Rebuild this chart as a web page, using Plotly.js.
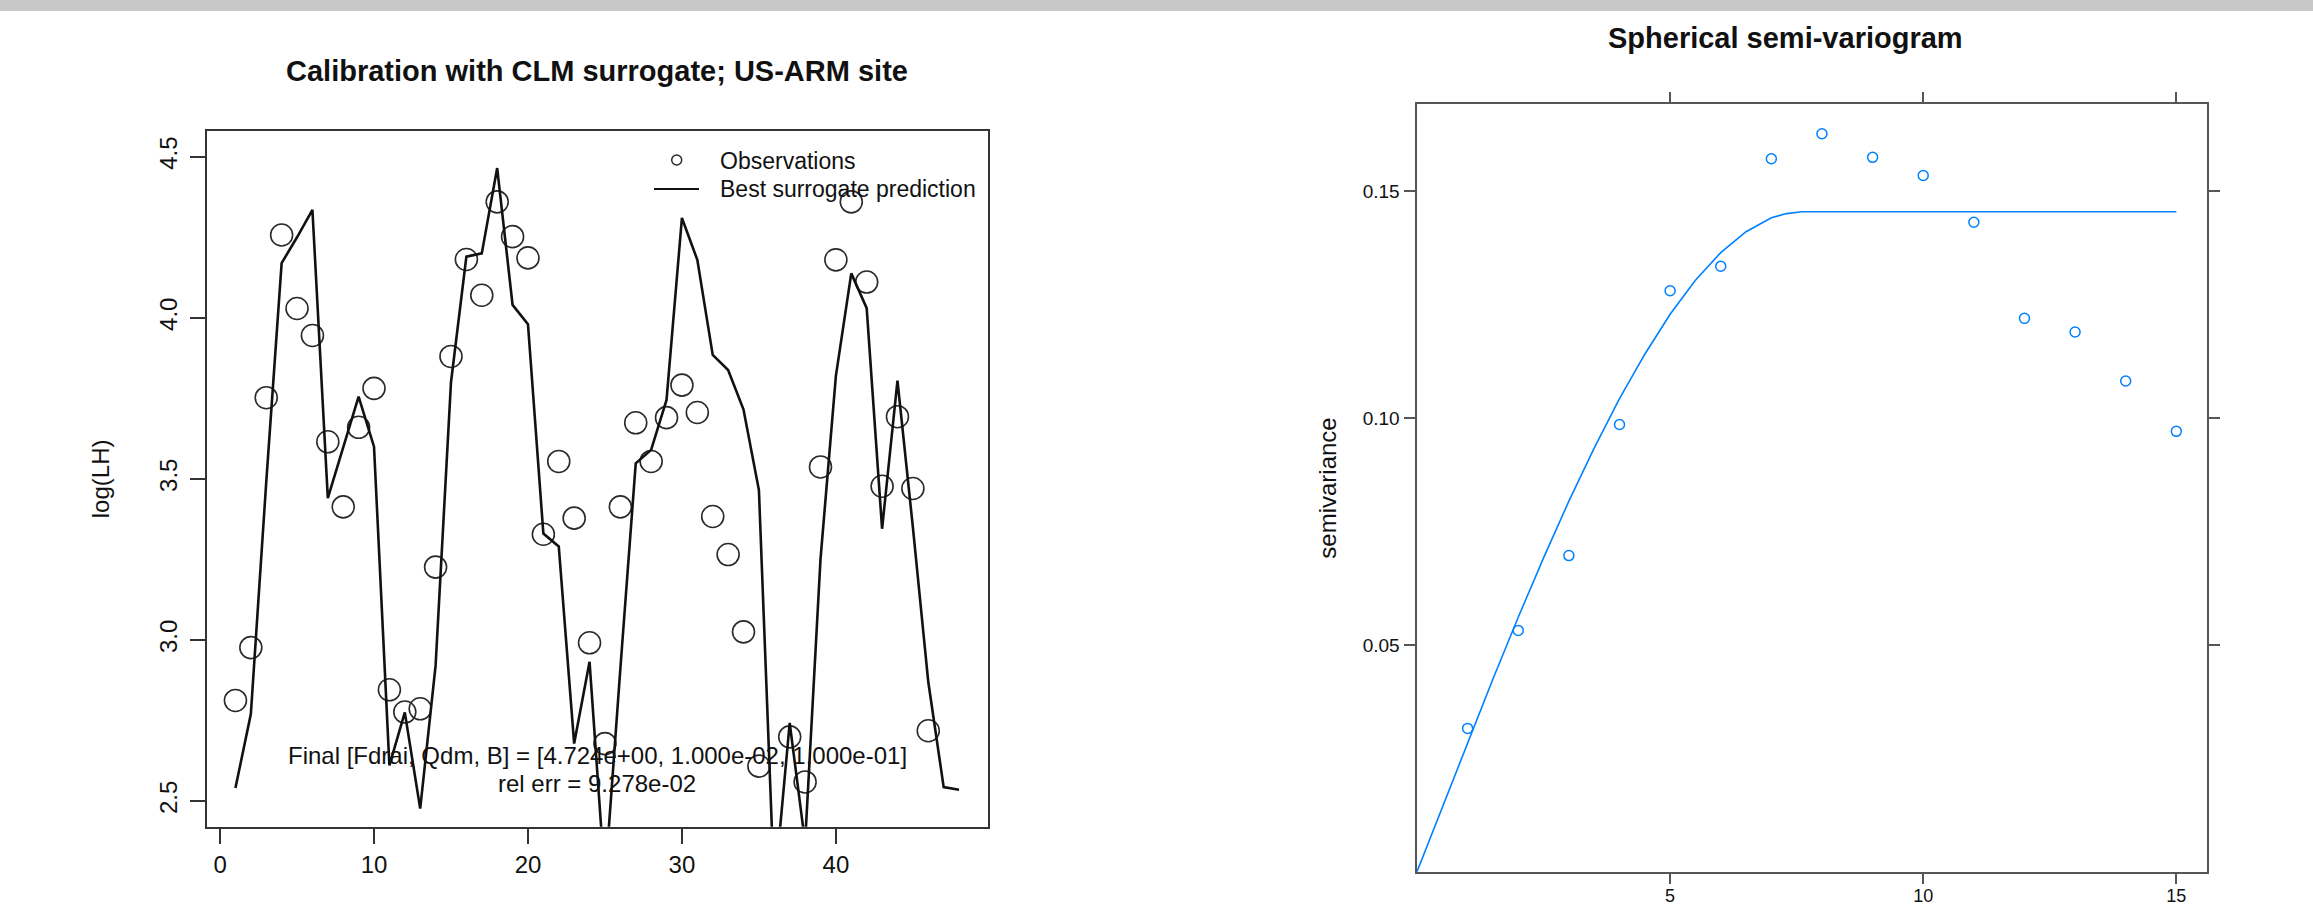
<!DOCTYPE html>
<html>
<head>
<meta charset="utf-8">
<script src="https://cdn.plot.ly/plotly-3.0.1.min.js"></script>
<style>html,body{margin:0;padding:0;background:#fff;}#chart{width:2313px;height:908px;}</style>
</head>
<body>
<div id="chart"></div>
<script>
// ---- Left panel: calibration with CLM surrogate ----
const timeIndex = [1,2,3,4,5,6,7,8,9,10,11,12,13,14,15,16,17,18,19,20,21,22,23,24,25,26,27,28,29,30,31,32,33,34,35,36,37,38,39,40,41,42,43,44,45,46,47,48];
const observations = [2.812,2.976,3.752,4.257,4.029,3.945,3.615,3.413,3.66,3.781,2.845,2.776,2.786,3.226,3.88,4.181,4.07,4.36,4.252,4.186,3.328,3.554,3.378,2.991,2.678,3.413,3.674,3.554,3.69,3.791,3.706,3.383,3.265,3.025,2.608,null,2.699,2.559,3.537,4.18,4.36,4.111,3.477,3.693,3.47,2.718,null,null];
const surrogatePrediction = [2.54,2.77,3.49,4.17,4.25,4.335,3.44,3.60,3.755,3.60,2.61,2.775,2.476,2.92,3.80,4.19,4.20,4.465,4.04,3.98,3.33,3.29,2.678,2.932,2.25,2.91,3.548,3.59,3.745,4.31,4.18,3.885,3.838,3.715,3.465,2.22,2.742,2.37,3.25,3.82,4.138,4.03,3.345,3.805,3.35,2.87,2.543,2.535];
const leftXTicks = [0,10,20,30,40];
const leftYTicks = [2.5,3.0,3.5,4.0,4.5];
const leftYTickText = ['2.5','3.0','3.5','4.0','4.5'];
const legendLabels = ['Observations', 'Best surrogate prediction'];
const fitText1 = 'Final [Fdrai, Qdm, B] = [4.724e+00, 1.000e-02, 1.000e-01]';
const fitText2 = 'rel err = 9.278e-02';

// ---- Right panel: spherical semi-variogram ----
const lagDistance = [1,2,3,4,5,6,7,8,9,10,11,12,13,14,15];
const semivariance = [0.0316,0.0532,0.0697,0.0986,0.1281,0.1335,0.1572,0.1627,0.1575,0.1535,0.1432,0.1220,0.1190,0.1082,0.0971];
const modelDistance = [0,0.5,1,1.5,2,2.5,3,3.5,4,4.5,5,5.5,6,6.5,7,7.3,7.6,15];
const modelSemivariance = [0,0.0143,0.0286,0.0425,0.0561,0.0692,0.0817,0.0934,0.1043,0.1141,0.1229,0.1304,0.1365,0.1411,0.1442,0.1451,0.1455,0.1455];
const rightXTicks = [5,10,15];
const rightYTicks = [0.05,0.10,0.15];
const rightYTickText = ['0.05','0.10','0.15'];

const W = 2313, H = 908;
const px = v => v / W;
const py = v => 1 - v / H;
const FONT = 'Liberation Sans, Arial, Helvetica, sans-serif';

const traces = [
  {
    x: timeIndex, y: observations, type: 'scatter', mode: 'markers', name: legendLabels[0],
    xaxis: 'x', yaxis: 'y', showlegend: false,
    marker: {symbol: 'circle-open', size: 22, color: '#2a2a2a', line: {width: 1.6, color: '#2a2a2a'}}
  },
  {
    x: timeIndex, y: surrogatePrediction, type: 'scatter', mode: 'lines', name: legendLabels[1],
    xaxis: 'x', yaxis: 'y', showlegend: false,
    line: {color: '#111111', width: 2.6}
  },
  {
    x: modelDistance, y: modelSemivariance, type: 'scatter', mode: 'lines', showlegend: false,
    xaxis: 'x2', yaxis: 'y2',
    line: {color: '#0080ff', width: 1.6}
  },
  {
    x: lagDistance, y: semivariance, type: 'scatter', mode: 'markers', showlegend: false,
    xaxis: 'x2', yaxis: 'y2',
    marker: {symbol: 'circle-open', size: 10, color: '#0080ff', line: {width: 1.5, color: '#0080ff'}}
  }
];

const axisCommon = {
  showgrid: false, zeroline: false, showline: true,
  ticks: 'outside', tickcolor: '#333', linecolor: '#333'
};

const layout = {
  width: W, height: H,
  margin: {l: 0, r: 0, t: 0, b: 0},
  paper_bgcolor: '#ffffff', plot_bgcolor: '#ffffff',
  font: {family: FONT, color: '#111'},
  showlegend: false,
  xaxis: Object.assign({}, axisCommon, {
    domain: [px(206.5), px(988)], range: [-0.88, 49.88], anchor: 'y',
    tickvals: leftXTicks, ticklen: 15, tickwidth: 2, linewidth: 2, mirror: true,
    tickfont: {family: FONT, size: 24, color: '#111'}
  }),
  yaxis: Object.assign({}, axisCommon, {
    domain: [1 - 826.7 / H, 1 - 131 / H], range: [2.42, 4.58], anchor: 'x',
    tickvals: leftYTicks, ticktext: leftYTickText, tickangle: -90,
    ticklen: 15, tickwidth: 2, linewidth: 2, mirror: true,
    tickfont: {family: FONT, size: 24, color: '#111'},
    ticklabelstandoff: 3,
    title: {text: 'log(LH)', font: {family: FONT, size: 24, color: '#111'}, standoff: 38}
  }),
  xaxis2: Object.assign({}, axisCommon, {
    domain: [px(1417), px(2206.7)], range: [0, 15.6], anchor: 'y2',
    tickvals: rightXTicks, ticklen: 10, tickwidth: 2, linewidth: 2.5, mirror: 'ticks',
    linecolor: '#555', tickcolor: '#555',
    ticklabelstandoff: -4,
    tickfont: {family: FONT, size: 18, color: '#111'}
  }),
  yaxis2: Object.assign({}, axisCommon, {
    domain: [1 - 871.7 / H, 1 - 104.3 / H], range: [0, 0.1692], anchor: 'x2',
    tickvals: rightYTicks, ticktext: rightYTickText,
    ticklen: 11, tickwidth: 2, linewidth: 2.5, mirror: 'ticks',
    linecolor: '#555', tickcolor: '#555',
    tickfont: {family: FONT, size: 19, color: '#111'},
    title: {text: 'semivariance', font: {family: FONT, size: 24, color: '#111'}, standoff: 20}
  }),
  annotations: [
    {text: '<b>Calibration with CLM surrogate; US-ARM site</b>', xref: 'paper', yref: 'paper',
     x: px(597), y: py(71), xanchor: 'center', yanchor: 'middle', showarrow: false,
     font: {family: FONT, size: 29, color: '#111'}},
    {text: '<b>Spherical semi-variogram</b>', xref: 'paper', yref: 'paper',
     x: px(1785.5), y: py(38), xanchor: 'center', yanchor: 'middle', showarrow: false,
     font: {family: FONT, size: 29, color: '#111'}},
    {text: fitText1, xref: 'x', yref: 'y', x: 24.5, y: 2.640, xanchor: 'center', yanchor: 'middle',
     showarrow: false, font: {family: FONT, size: 24, color: '#111'}},
    {text: fitText2, xref: 'x', yref: 'y', x: 24.5, y: 2.554, xanchor: 'center', yanchor: 'middle',
     showarrow: false, font: {family: FONT, size: 24, color: '#111'}},
    {text: legendLabels[0], xref: 'paper', yref: 'paper', x: px(718), y: py(161),
     xanchor: 'left', yanchor: 'middle', showarrow: false, font: {family: FONT, size: 23, color: '#111'}},
    {text: legendLabels[1], xref: 'paper', yref: 'paper', x: px(718), y: py(189),
     xanchor: 'left', yanchor: 'middle', showarrow: false, font: {family: FONT, size: 23, color: '#111'}}
  ],
  shapes: [
    {type: 'rect', xref: 'paper', yref: 'paper', x0: 0, x1: 1, y0: py(11), y1: 1,
     fillcolor: '#c8c8c8', line: {width: 0}, layer: 'above'},
    {type: 'circle', xref: 'paper', yref: 'paper', x0: px(671.7), x1: px(681.7), y0: py(165), y1: py(155),
     line: {color: '#2a2a2a', width: 1.5}, fillcolor: 'rgba(0,0,0,0)'},
    {type: 'line', xref: 'paper', yref: 'paper', x0: px(654), x1: px(699), y0: py(189), y1: py(189),
     line: {color: '#111', width: 2}}
  ]
};

Plotly.newPlot('chart', traces, layout, {displayModeBar: false, staticPlot: true});
</script>
</body>
</html>
